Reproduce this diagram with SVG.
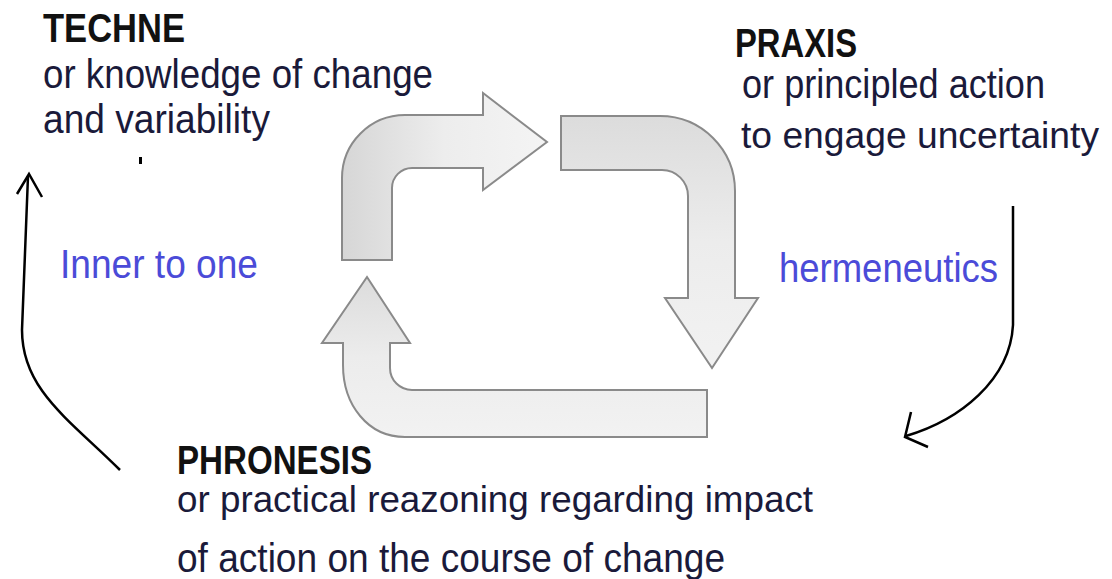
<svg xmlns="http://www.w3.org/2000/svg" width="1112" height="579" viewBox="0 0 1112 579">
<style>
.head{font-family:"Liberation Sans",Arial,sans-serif;font-weight:bold;font-size:40px;fill:#111}
.body{font-family:"Liberation Sans",Arial,sans-serif;font-size:40px;fill:#1a1a3a}
.sm{font-size:37px}
.blue{font-family:"Liberation Sans",Arial,sans-serif;font-size:40px;fill:#4b4bd8}
.arr{stroke:#8a8a8a;stroke-width:2;stroke-linejoin:miter}
.con{fill:none;stroke:#000;stroke-width:2.5}
</style>
<defs>
<linearGradient id="gv" x1="0" y1="0" x2="1" y2="0">
<stop offset="0" stop-color="#d6d6d6"/><stop offset="0.5" stop-color="#ededed"/><stop offset="1" stop-color="#f4f4f4"/>
</linearGradient>
<linearGradient id="gh" x1="0" y1="0" x2="0" y2="1">
<stop offset="0" stop-color="#dcdcdc"/><stop offset="0.5" stop-color="#ececec"/><stop offset="1" stop-color="#f2f2f2"/>
</linearGradient>
</defs>
<rect width="1112" height="579" fill="#fff"/>

<g id="cycle">
<path id="arrow-top-left" class="arr" fill="url(#gv)" d="M342 260 L342 178 A63 63 0 0 1 405 115 L483 115 L483 93 L547 142 L483 190 L483 168 L412 168 A20 20 0 0 0 392 188 L392 260 Z"/>
<path id="arrow-top-right" class="arr" fill="url(#gh)" d="M561 116 L660 116 A75 75 0 0 1 735 191 L735 298 L758 298 L712 368 L665 298 L688 298 L688 196 A26 26 0 0 0 662 170 L561 170 Z"/>
<path id="arrow-bottom" class="arr" fill="url(#gh)" d="M707 390 L707 437 L405 437 C368 437 343 405 343 365 L343 343 L322 343 L367 277 L410 343 L390 343 L390 368 A22 22 0 0 0 412 390 Z"/>
</g>

<g id="techne">
<text class="head" x="43" y="42" textLength="142" lengthAdjust="spacingAndGlyphs">TECHNE</text>
<text class="body" x="43" y="88" textLength="390" lengthAdjust="spacingAndGlyphs">or knowledge of change</text>
<text class="body" x="43" y="133" textLength="227" lengthAdjust="spacingAndGlyphs">and variability</text>
<rect x="139" y="157" width="3" height="7" fill="#000"/>
</g>

<g id="praxis">
<text class="head" x="735" y="57" textLength="122" lengthAdjust="spacingAndGlyphs">PRAXIS</text>
<text class="body" x="742" y="98" textLength="303" lengthAdjust="spacingAndGlyphs">or principled action</text>
<text class="body sm" x="741" y="148" textLength="358" lengthAdjust="spacingAndGlyphs">to engage uncertainty</text>
</g>

<g id="phronesis">
<text class="head" x="177" y="474" textLength="195" lengthAdjust="spacingAndGlyphs">PHRONESIS</text>
<text class="body sm" x="177" y="512" textLength="636" lengthAdjust="spacingAndGlyphs">or practical reazoning regarding impact</text>
<text class="body" x="177" y="572" textLength="548" lengthAdjust="spacingAndGlyphs">of action on the course of change</text>
</g>

<g id="connectors">
<path class="con" d="M120 470 C70 420 22 390 22 330 L28 176"/>
<polyline class="con" points="17,194 29,174 42,197"/>
<path class="con" d="M1013 206 L1013 325 C1010 380 960 420 906 436"/>
<polyline class="con" points="911,412 905,437 928,447"/>
</g>

<g id="labels">
<text class="blue" x="60" y="278" textLength="198" lengthAdjust="spacingAndGlyphs">Inner to one</text>
<text class="blue" x="779" y="282" textLength="219" lengthAdjust="spacingAndGlyphs">hermeneutics</text>
</g>
</svg>
